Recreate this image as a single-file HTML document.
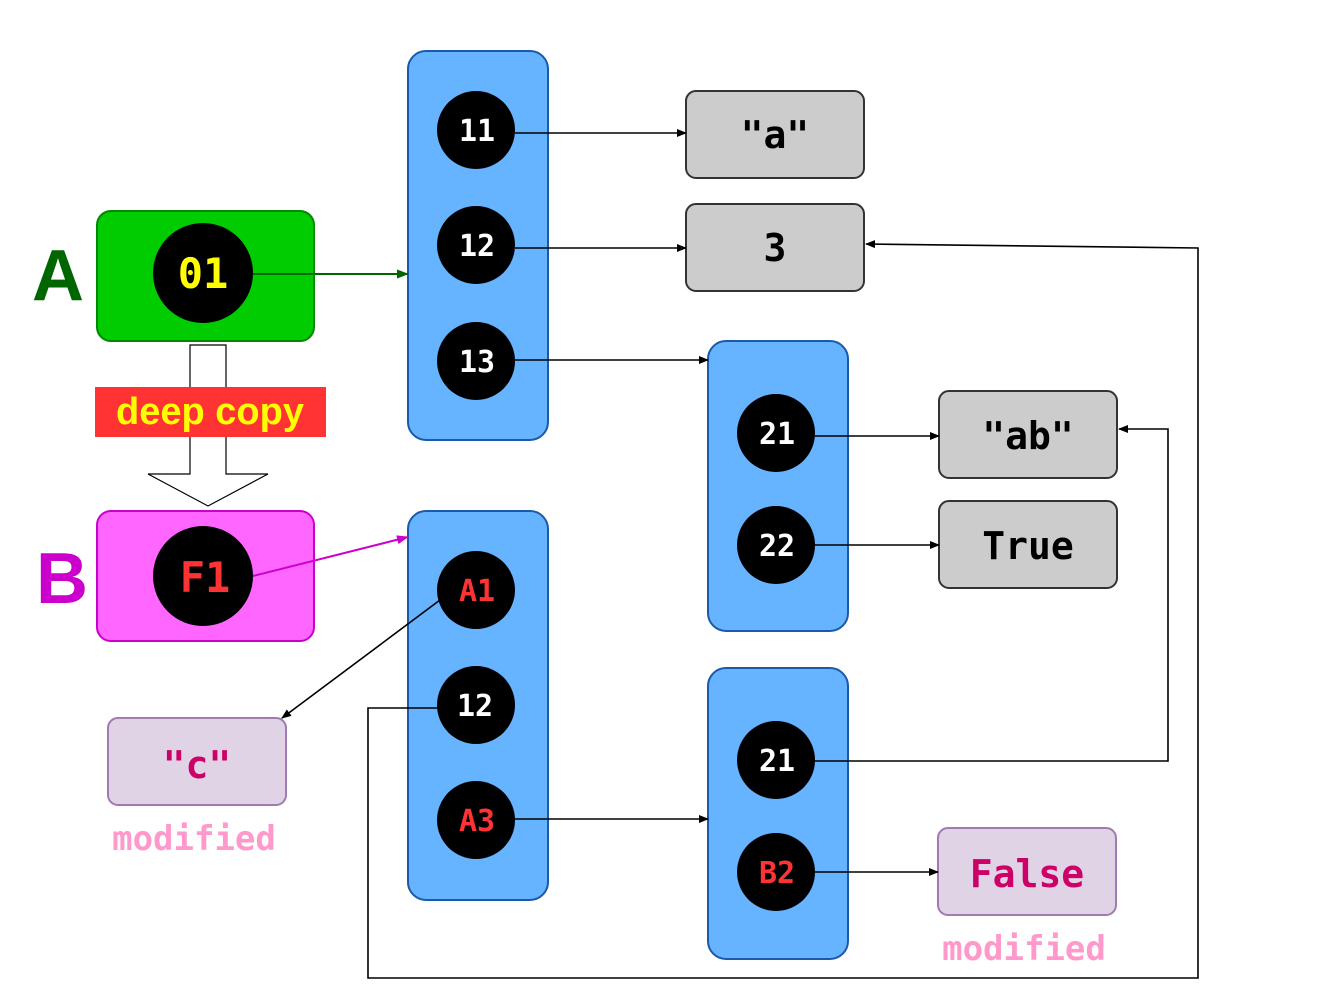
<!DOCTYPE html>
<html><head><meta charset="utf-8"><style>
html,body{margin:0;padding:0;background:#fff;}
svg text{font-family:"DejaVu Sans Mono","Liberation Mono",monospace;font-weight:bold;}
</style></head><body>
<svg width="1336" height="996" viewBox="0 0 1336 996" xmlns="http://www.w3.org/2000/svg">
<defs>
<marker id="ak" markerWidth="10" markerHeight="8" refX="9" refY="4" orient="auto" markerUnits="userSpaceOnUse"><path d="M0,0 L10,4 L0,8 z" fill="#000"/></marker>
<marker id="ag" markerWidth="12" markerHeight="9" refX="11" refY="4.5" orient="auto" markerUnits="userSpaceOnUse"><path d="M0,0 L12,4.5 L0,9 z" fill="#006600"/></marker>
<marker id="am" markerWidth="12" markerHeight="9" refX="11" refY="4.5" orient="auto" markerUnits="userSpaceOnUse"><path d="M0,0 L12,4.5 L0,9 z" fill="#cc00cc"/></marker>
</defs>

<rect x="408" y="51" width="140" height="389" rx="18" fill="#66b3ff" stroke="#1a5aa8" stroke-width="2"/>
<rect x="708" y="341" width="140" height="290" rx="18" fill="#66b3ff" stroke="#1a5aa8" stroke-width="2"/>
<rect x="408" y="511" width="140" height="389" rx="18" fill="#66b3ff" stroke="#1a5aa8" stroke-width="2"/>
<rect x="708" y="668" width="140" height="291" rx="18" fill="#66b3ff" stroke="#1a5aa8" stroke-width="2"/>

<rect x="686" y="91" width="178" height="87" rx="10" fill="#cccccc" stroke="#333" stroke-width="2"/>
<text x="775" y="148" font-size="38" text-anchor="middle">"a"</text>
<rect x="686" y="204" width="178" height="87" rx="10" fill="#cccccc" stroke="#333" stroke-width="2"/>
<text x="775" y="261" font-size="38" text-anchor="middle">3</text>
<rect x="939" y="391" width="178" height="87" rx="10" fill="#cccccc" stroke="#333" stroke-width="2"/>
<text x="1028" y="449" font-size="38" text-anchor="middle">"ab"</text>
<rect x="939" y="501" width="178" height="87" rx="10" fill="#cccccc" stroke="#333" stroke-width="2"/>
<text x="1028" y="559" font-size="38" text-anchor="middle">True</text>
<rect x="108" y="718" width="178" height="87" rx="10" fill="#e1d3e6" stroke="#a07ab0" stroke-width="2"/>
<text x="197" y="778" font-size="38" text-anchor="middle" fill="#cc0066">"c"</text>
<text x="194" y="850" font-size="34" text-anchor="middle" fill="#ff99cc">modified</text>
<rect x="938" y="828" width="178" height="87" rx="10" fill="#e1d3e6" stroke="#a07ab0" stroke-width="2"/>
<text x="1027" y="887" font-size="38" text-anchor="middle" fill="#cc0066">False</text>
<text x="1024" y="960" font-size="34" text-anchor="middle" fill="#ff99cc">modified</text>

<text x="58" y="300" text-anchor="middle" fill="#006600" style="font-family:'Liberation Sans',sans-serif;font-size:72px;">A</text>
<rect x="97" y="211" width="217" height="130" rx="14" fill="#00cc00" stroke="#008800" stroke-width="2"/>
<line x1="253" y1="274" x2="408" y2="274" stroke="#006600" stroke-width="2" marker-end="url(#ag)"/>
<circle cx="203" cy="273" r="50" fill="#000"/>
<text x="203" y="288" font-size="42" text-anchor="middle" fill="#ffff00">01</text>

<path d="M190,345 L226,345 L226,474 L268,474 L208,506 L148,474 L190,474 Z" fill="#fff" stroke="#000" stroke-width="1.2"/>
<rect x="95" y="387" width="231" height="50" fill="#ff3333"/>
<text x="210" y="424" text-anchor="middle" fill="#ffff00" style="font-family:'Liberation Sans',sans-serif;font-size:38px;font-weight:bold;">deep copy</text>

<text x="62" y="603" text-anchor="middle" fill="#cc00cc" style="font-family:'Liberation Sans',sans-serif;font-size:72px;">B</text>
<rect x="97" y="511" width="217" height="130" rx="14" fill="#ff66ff" stroke="#cc00cc" stroke-width="2"/>
<line x1="253" y1="576" x2="408" y2="537" stroke="#cc00cc" stroke-width="2" marker-end="url(#am)"/>
<circle cx="203" cy="576" r="50" fill="#000"/>
<text x="205" y="592" font-size="42" text-anchor="middle" fill="#ff3333">F1</text>

<g stroke="#000" stroke-width="1.6" fill="none">
<line x1="515" y1="133" x2="686" y2="133" marker-end="url(#ak)"/>
<line x1="515" y1="248" x2="686" y2="248" marker-end="url(#ak)"/>
<line x1="515" y1="360" x2="708" y2="360" marker-end="url(#ak)"/>
<line x1="815" y1="436" x2="939" y2="436" marker-end="url(#ak)"/>
<line x1="815" y1="545" x2="939" y2="545" marker-end="url(#ak)"/>
<line x1="440" y1="600" x2="282" y2="718" marker-end="url(#ak)"/>
<polyline points="438,708 368,708 368,978 1198,978 1198,248 866,244" marker-end="url(#ak)"/>
<line x1="515" y1="819" x2="708" y2="819" marker-end="url(#ak)"/>
<polyline points="815,761 1168,761 1168,429 1119,429" marker-end="url(#ak)"/>
<line x1="815" y1="872" x2="938" y2="872" marker-end="url(#ak)"/>
</g>

<g>
<circle cx="476" cy="130" r="39" fill="#000"/><text x="477" y="141" font-size="30" text-anchor="middle" fill="#fff">11</text>
<circle cx="476" cy="245" r="39" fill="#000"/><text x="477" y="256" font-size="30" text-anchor="middle" fill="#fff">12</text>
<circle cx="476" cy="361" r="39" fill="#000"/><text x="477" y="372" font-size="30" text-anchor="middle" fill="#fff">13</text>
<circle cx="776" cy="433" r="39" fill="#000"/><text x="777" y="444" font-size="30" text-anchor="middle" fill="#fff">21</text>
<circle cx="776" cy="545" r="39" fill="#000"/><text x="777" y="556" font-size="30" text-anchor="middle" fill="#fff">22</text>
<circle cx="476" cy="590" r="39" fill="#000"/><text x="477" y="601" font-size="30" text-anchor="middle" fill="#ff3333">A1</text>
<circle cx="476" cy="705" r="39" fill="#000"/><text x="475" y="716" font-size="30" text-anchor="middle" fill="#fff">12</text>
<circle cx="476" cy="820" r="39" fill="#000"/><text x="477" y="831" font-size="30" text-anchor="middle" fill="#ff3333">A3</text>
<circle cx="776" cy="760" r="39" fill="#000"/><text x="777" y="771" font-size="30" text-anchor="middle" fill="#fff">21</text>
<circle cx="776" cy="872" r="39" fill="#000"/><text x="777" y="883" font-size="30" text-anchor="middle" fill="#ff3333">B2</text>
</g>
</svg>
</body></html>
